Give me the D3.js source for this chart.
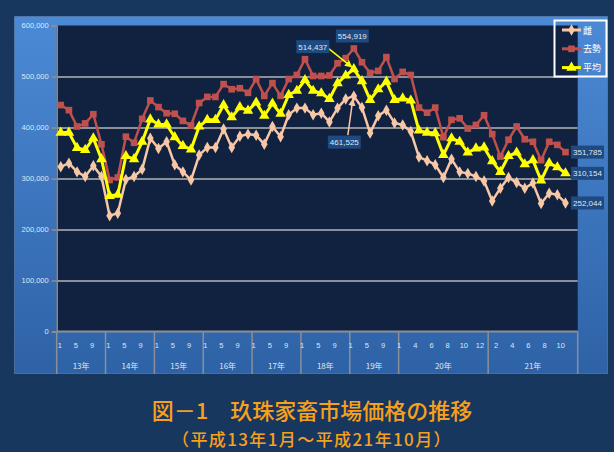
<!DOCTYPE html>
<html><head><meta charset="utf-8">
<script src="https://cdn.jsdelivr.net/npm/d3@7"></script>
<style>
html,body{margin:0;padding:0;background:#17375e;}
svg{display:block;}
</style></head>
<body>
<script>
// ---------- data ----------
const yearLabels = ["13年","14年","15年","16年","17年","18年","19年","20年","21年"];
const monthsByYear = [
  [1,3,5,7,9,11],[1,3,5,7,9,11],[1,3,5,7,9,11],[1,3,5,7,9,11],
  [1,3,5,7,9,11],[1,3,5,7,9,11],[1,3,5,7,9,11],
  [1,3,4,5,6,7,8,9,10,11,12],
  [1,2,3,4,5,6,7,8,9,10,11]
];
const seriesNames = ["雌","去勢","平均"];
const female = [323000,330000,313000,304000,325000,304000, 227000,232000,298000,304000,318000,379000,
  359000,372000,327000,313000,297000,346000, 361000,361000,397000,361000,383000,387000,
  385000,367000,402000,382000,425000,438000, 438000,425000,428000,411000,438000,456000,
  461525,439000,389000,423000,434000,409000,
  405000,392000,342000,335000,327000,302000,338000,313000,310000,304000,295000,
  256000,281000,302000,292000,281000,291000,251000,271000,268000,252044];
const steer = [444000,434000,402000,408000,426000,367000, 297000,302000,382000,370000,417000,453000,
  440000,428000,427000,413000,404000,448000, 460000,460000,485000,475000,477000,468000,
  495000,462000,487000,462000,495000,503000, 534000,501000,501000,502000,526000,536000,
  554919,528000,507000,511000,538000,495000,
  509000,503000,439000,429000,439000,381000,415000,418000,398000,405000,424000,
  387000,343000,376000,402000,377000,372000,336000,372000,366000,351785];
const average = [390000,390000,360000,356000,379000,338000, 266000,268000,344000,338000,372000,416000,
  406000,406000,381000,364000,357000,402000, 415000,415000,444000,420000,440000,433000,
  449000,423000,447000,427000,464000,472000, 493000,472000,467000,456000,487000,502000,
  514437,491000,454000,475000,490000,454000,
  457000,453000,394000,390000,389000,346000,379000,372000,351000,359000,361000,
  334000,313000,344000,351000,328000,336000,296000,330000,322000,310154];
const yTicks = [0,100000,200000,300000,400000,500000,600000];
const titleText = "図－1　玖珠家畜市場価格の推移";
const subtitleText = "（平成13年1月～平成21年10月）";

// ---------- build categories ----------
const categories = [];
const groups = [];
monthsByYear.forEach((ms, gi) => {
  const start = categories.length;
  ms.forEach(m => categories.push({year: yearLabels[gi], month: m}));
  groups.push({label: yearLabels[gi], start, end: categories.length});
});

const W = 614, H = 452;
const svg = d3.select("body").append("svg").attr("width", W).attr("height", H);
const defs = svg.append("defs");
const grad = defs.append("linearGradient").attr("id","ca").attr("x1",0).attr("y1",0).attr("x2",0).attr("y2",1);
grad.append("stop").attr("offset","0%").attr("stop-color","#4c8ad6");
grad.append("stop").attr("offset","100%").attr("stop-color","#2e62a6");

svg.append("rect").attr("width",W).attr("height",H).attr("fill","#17375e");
// chart area
svg.append("rect").attr("x",14.5).attr("y",16.5).attr("width",593).attr("height",357)
  .attr("fill","url(#ca)").attr("stroke","#6f8fbd").attr("stroke-width",1).attr("stroke-dasharray","1,1");

const L = 56.7, R = 577.7, T = 25.5, B = 331.5;
const x = d3.scaleBand().domain(d3.range(categories.length)).range([L, R]).paddingInner(0).paddingOuter(0);
const cx = i => x(i) + x.bandwidth()/2;
const y = d3.scaleLinear().domain([0,600000]).range([B, T]);

// plot area
svg.append("rect").attr("x",L).attr("y",T).attr("width",R-L).attr("height",B-T).attr("fill","#10223f");

// gridlines
const grid = svg.append("g").attr("transform",`translate(${L},0)`)
  .call(d3.axisLeft(y).tickValues(yTicks.filter(v=>v>0 && v<600000)).tickSize(-(R-L)).tickFormat(""));
grid.select(".domain").remove();
grid.selectAll("line").attr("stroke","#8a8f98").attr("stroke-width",2);

// y axis
const ya = svg.append("g").attr("transform",`translate(${L},0)`)
  .call(d3.axisLeft(y).tickValues(yTicks).tickSize(5).tickPadding(3).tickFormat(d3.format(",")));
ya.select(".domain").attr("stroke","#8a8f98").attr("stroke-width",1.5);
ya.selectAll("line").attr("stroke","#8a8f98").attr("stroke-width",1.5);
ya.selectAll("text").attr("fill","#dfe7f3").attr("font-family","Liberation Sans, Arial, sans-serif").attr("font-size","7.5px");

// x axis line
svg.append("line").attr("x1",L).attr("x2",R).attr("y1",B).attr("y2",B).attr("stroke","#8a8f98").attr("stroke-width",2);
// group separators
const sepX = groups.map(g => x(g.start)).concat([R]);
svg.selectAll("line.sep").data(sepX).enter().append("line").attr("class","sep")
  .attr("x1",d=>d).attr("x2",d=>d).attr("y1",B).attr("y2",374)
  .attr("stroke","#8a8f98").attr("stroke-width",1.5);
// month labels (every 2nd category)
svg.selectAll("text.mon").data(categories.map((c,i)=>({c,i})).filter(d=>d.i%2===0)).enter()
  .append("text").attr("class","mon")
  .attr("x",d=>cx(d.i)-1-d.i*0.06).attr("y",348)
  .attr("text-anchor","middle").attr("fill","#dfe7f3")
  .attr("font-family","Liberation Sans, Arial, sans-serif").attr("font-size","7.5px")
  .text(d=>d.c.month);
// year labels
svg.selectAll("text.yr").data(groups).enter().append("text").attr("class","yr")
  .attr("x",d=>(x(d.start) + (d.end<categories.length ? x(d.end) : R))/2).attr("y",369)
  .attr("text-anchor","middle").attr("fill","#dfe7f3")
  .attr("font-family","Noto Sans CJK JP, sans-serif").attr("font-size","8px")
  .text(d=>d.label);

// series
const series = [
  {name: seriesNames[0], values: female, color:"#f8c7a6", sym:d3.symbolDiamond, size:38, w:2.5},
  {name: seriesNames[1], values: steer, color:"#c0504d", sym:d3.symbolSquare, size:44, w:2.5},
  {name: seriesNames[2], values: average, color:"#ffff00", sym:d3.symbolTriangle, size:48, w:3}
];
const line = d3.line().defined(d=>d!=null).x((d,i)=>cx(i)).y(d=>y(d));
series.forEach(s => {
  svg.append("path").datum(s.values).attr("d",line).attr("fill","none")
    .attr("stroke",s.color).attr("stroke-width",s.w).attr("stroke-linejoin","round");
  svg.append("g").selectAll("path").data(s.values).enter().append("path")
    .attr("d",d3.symbol().type(s.sym).size(s.size))
    .attr("transform",(d,i)=>`translate(${cx(i)},${y(d)})`)
    .attr("fill",s.color);
});

// annotations
const fmt = d3.format(",");
function box(cxp, cyp, val){
  const g = svg.append("g");
  g.append("rect").attr("x",cxp-16.5).attr("y",cyp-6.5).attr("width",33).attr("height",13).attr("fill","#1f4a80");
  g.append("text").attr("x",cxp).attr("y",cyp+3).attr("text-anchor","middle").attr("fill","#dfe7f3")
    .attr("font-family","Liberation Sans, Arial, sans-serif").attr("font-size","8px").text(fmt(val));
}
const iPeak = 36;
const px = cx(iPeak);
// arrows
defs.append("marker").attr("id","ay").attr("viewBox","0 0 10 10").attr("refX",9).attr("refY",5)
  .attr("markerWidth",5).attr("markerHeight",5).attr("orient","auto")
  .append("path").attr("d","M0,0L10,5L0,10z").attr("fill","#ffff00");
defs.append("marker").attr("id","ap").attr("viewBox","0 0 10 10").attr("refX",9).attr("refY",5)
  .attr("markerWidth",5).attr("markerHeight",5).attr("orient","auto")
  .append("path").attr("d","M0,0L10,5L0,10z").attr("fill","#f8c7a6");
svg.append("line").attr("x1",px-27).attr("y1",y(average[iPeak])-22).attr("x2",px-2).attr("y2",y(average[iPeak])-2)
  .attr("stroke","#ffff00").attr("stroke-width",1.5).attr("marker-end","url(#ay)");
svg.append("line").attr("x1",px-6).attr("y1",y(female[iPeak])+39).attr("x2",px-1).attr("y2",y(female[iPeak])+3)
  .attr("stroke","#f8c7a6").attr("stroke-width",1.5).attr("marker-end","url(#ap)");
box(px-1.5, y(steer[iPeak])-12.5, steer[iPeak]);
box(px-41, y(average[iPeak])-22.5, average[iPeak]);
box(px-9.5, y(female[iPeak])+46, female[iPeak]);
const iLast = steer.length-1, lx = cx(iLast)+22;
box(lx, y(steer[iLast]), steer[iLast]);
box(lx, y(average[iLast]), average[iLast]);
box(lx, y(female[iLast]), female[iLast]);

// legend
const lg = svg.append("g");
lg.append("rect").attr("x",554.5).attr("y",20.5).attr("width",52).attr("height",56)
  .attr("fill","none").attr("stroke","#ffffff").attr("stroke-width",2);
series.forEach((s,k) => {
  const ly = 30 + k*18.8;
  lg.append("line").attr("x1",562).attr("x2",581).attr("y1",ly).attr("y2",ly).attr("stroke",s.color).attr("stroke-width",3);
  lg.append("path").attr("d",d3.symbol().type(s.sym).size(s.size)).attr("transform",`translate(571.5,${ly})`).attr("fill",s.color);
  lg.append("text").attr("x",583).attr("y",ly+3.5).attr("fill","#ffffff")
    .attr("font-family","Noto Sans CJK JP, sans-serif").attr("font-size","9px").text(s.name);
});

// titles
svg.append("text").attr("x",312).attr("y",418.5).attr("text-anchor","middle").attr("fill","#f7a01c")
  .attr("font-family","Noto Sans CJK JP, sans-serif").attr("font-size","22px").attr("font-weight","500").text(titleText);
svg.append("text").attr("x",312).attr("y",446).attr("text-anchor","middle").attr("fill","#f7a01c")
  .attr("font-family","Noto Sans CJK JP, sans-serif").attr("font-size","17px").attr("font-weight","500")
  .attr("letter-spacing","1.4px").text(subtitleText);
</script>
</body></html>
